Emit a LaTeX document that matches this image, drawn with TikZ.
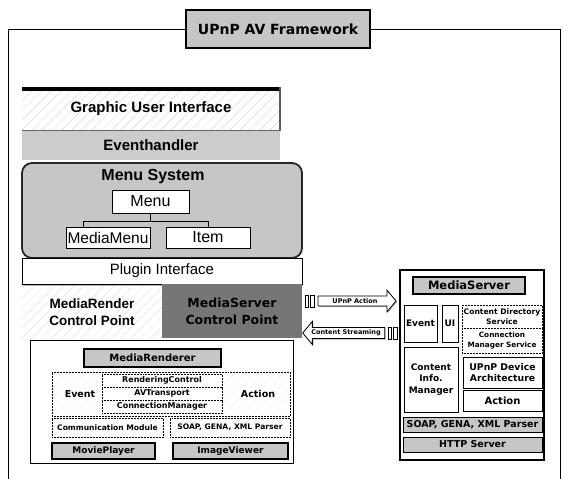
\documentclass[tikz,border=0pt]{standalone}
\usepackage{fontspec}
\setmainfont{Liberation Sans}
\newfontfamily\vfont{DejaVu Sans}
\usetikzlibrary{positioning,shapes.arrows,shadows,patterns.meta}
\newcommand{\fsz}[2]{\fontsize{#1}{#2}\selectfont}
\definecolor{darkbg}{RGB}{118,118,118}
\tikzset{
	blk/.style={draw=black, line width=0.8pt, inner sep=0pt, align=center},
	graybar/.style={blk, fill=gray!45, line width=1.1pt, drop shadow={shadow xshift=1.2pt, shadow yshift=-1.2pt, fill=black!70}},
	whitebox/.style={blk, fill=white},
	thinbox/.style={blk, fill=white, line width=0.5pt},
	dotbox/.style={draw=black, densely dotted, line width=0.5pt, fill=white, inner sep=0pt, align=center},
	hatch/.style={preaction={fill=white}, pattern={Lines[angle=45,distance=7pt,line width=0.3pt]}, pattern color=gray!40},
	conn/.style={draw=black, line width=1pt},
	flow/.style={single arrow, draw=black, fill=white, line width=0.8pt, single arrow head extend=6pt, single arrow tip angle=100, inner sep=2pt, font=\vfont\bfseries\fsz{6.5}{7}, drop shadow={shadow xshift=1pt, shadow yshift=-1pt, fill=black!60}},
	tailbar/.style={draw=black, line width=0.6pt, fill=white, minimum width=3.5pt, minimum height=12pt, inner sep=0pt},
}
\begin{document}
\begin{tikzpicture}[x=1pt,y=-1pt]
		\useasboundingbox (0,0) rectangle (566,479);
		%title and outer frame
		\node[graybar, line width=1.3pt, minimum width=184pt, minimum height=38pt, font=\vfont\bfseries\fsz{14}{16}] (title) at (278,29) {UPnP AV Framework};
		\coordinate (fbl) at (8,479);
		\coordinate (fbr) at (560,479);
		\draw[line width=0.8pt] (fbl) |- (title.west);
		\draw[line width=0.8pt] (title.east) -| (fbr);
		%user interface stack
		\node[blk, hatch, draw=none, minimum width=258pt, minimum height=43pt, font=\bfseries\fsz{15}{17}] (gui) at (151,109) {Graphic User Interface};
		\draw[line width=3.5pt] ([yshift=-1.5pt]gui.north west) -- ([yshift=-1.5pt]gui.north east);
		\draw[line width=2pt, black!65] (gui.north east) -- (gui.south east);
		\node[blk, draw=none, fill=gray!40, minimum width=258pt, minimum height=29pt, font=\bfseries\fsz{15}{17}] (evh) at (151,145.5) {Eventhandler};
		\draw[line width=1pt, black!60] (evh.north west) -- (evh.north east);
		%menu system
		\node[draw=black!85, line width=1.8pt, fill=gray!45, rounded corners=10pt, minimum width=280pt, minimum height=95pt] (menusys) at (162,210.5) {};
		\node[font=\bfseries\fsz{16}{18}, below=4pt of menusys.north, xshift=-9pt] (menulbl) {Menu System};
		\node[whitebox, minimum width=77pt, minimum height=23pt, font=\fsz{16}{18}] (menu) at (150.5,201.5) {Menu};
		\node[whitebox, minimum width=84pt, minimum height=21pt, font=\fsz{15.5}{18}] (mediamenu) at (108,237.5) {MediaMenu};
		\node[whitebox, minimum width=84pt, minimum height=21pt, font=\fsz{16}{18}] (item) at (208,237.5) {Item};
		\coordinate (mmtop) at ([xshift=-25pt]mediamenu.north);
		\draw[conn] (menu.south) -- ++(0,8) -| (mmtop);
		\draw[conn] (menu.south) -- ++(0,8) -| (item.north);
		\node[whitebox, line width=1pt, minimum width=280pt, minimum height=26pt, font=\fsz{15}{17}, drop shadow={shadow xshift=1pt, shadow yshift=-1.5pt, fill=black!60}] (plugin) at (162,271) {Plugin Interface};
		%control points
		\node[hatch, pattern color=gray!30, minimum width=140pt, minimum height=52pt, align=center, inner sep=0pt, font=\bfseries\fsz{13.5}{17}] (mrcp) at (92,312) {MediaRender\\Control Point};
		\fill[darkbg] (162,284) rectangle (302,338);
		\node[align=center, text=black, text opacity=1, font=\vfont\bfseries\fsz{12.5}{17}] (mscp) at (232,311) {MediaServer\\Control Point};
		%media renderer
		\node[blk, fill=white, minimum width=263pt, minimum height=123pt] (rbox) at (161.5,401.5) {};
		\node[graybar, minimum width=137pt, minimum height=18pt, font=\vfont\bfseries\fsz{10}{12}] (rtitle) at (152.5,358) {MediaRenderer};
		\node[dotbox, hatch, minimum width=238pt, minimum height=44pt] (evact) at (171,394) {};
		\node[font=\vfont\bfseries\fsz{9.5}{12}] (revent) at (80,394) {Event};
		\node[font=\vfont\bfseries\fsz{9.5}{12}] (raction) at (258,394) {Action};
		\node[dotbox, minimum width=120pt, minimum height=13pt, font=\vfont\bfseries\fsz{8}{9}] (rc) at (162,380.5) {RenderingControl};
		\node[dotbox, minimum width=120pt, minimum height=13pt, font=\vfont\bfseries\fsz{8}{9}] (avt) at (162,393.5) {AVTransport};
		\node[dotbox, minimum width=120pt, minimum height=13pt, font=\vfont\bfseries\fsz{8}{9}] (cm) at (162,406.5) {ConnectionManager};
		\node[dotbox, hatch, minimum width=111pt, minimum height=19pt, font=\vfont\bfseries\fsz{7.6}{8}] (comm) at (107.5,427.5) {Communication Module};
		\node[dotbox, hatch, minimum width=120pt, minimum height=19pt, font=\vfont\bfseries\fsz{7.6}{8}] (rsoap) at (230,427.5) {SOAP, GENA, XML Parser};
		\node[graybar, minimum width=103pt, minimum height=16pt, font=\vfont\bfseries\fsz{9}{10}] (movie) at (103.5,451) {MoviePlayer};
		\node[graybar, minimum width=115pt, minimum height=16pt, font=\vfont\bfseries\fsz{9}{10}] (image) at (230.5,451) {ImageViewer};
		%action and streaming arrows
		\node[flow, minimum height=78pt] (upnpact) at (355,301) {UPnP Action};
		\node[tailbar] (actbara) at (307,301) {};
		\node[tailbar] (actbarb) at (312.5,301) {};
		\node[flow, shape border rotate=180, minimum height=82pt] (stream) at (346,333) {Content Streaming};
		\node[tailbar] (strbara) at (390,333) {};
		\node[tailbar] (strbarb) at (395.5,333) {};
		%media server
		\node[blk, line width=1.3pt, fill=white, minimum width=144pt, minimum height=190pt] (msbox) at (472,365) {};
		\node[graybar, minimum width=112pt, minimum height=17pt, font=\vfont\bfseries\fsz{11.5}{12}] (mstitle) at (469,285.5) {MediaServer};
		\node[thinbox, minimum width=33pt, minimum height=37pt, font=\vfont\bfseries\fsz{9}{10}] (msevent) at (420.5,323.5) {Event};
		\node[thinbox, minimum width=16pt, minimum height=37pt, font=\vfont\bfseries\fsz{9}{10}] (msui) at (450,323.5) {UI};
		\node[dotbox, minimum width=80pt, minimum height=23pt, font=\vfont\bfseries\fsz{7.6}{9.5}] (cds) at (502,316.5) {Content Directory\\Service};
		\node[dotbox, minimum width=80pt, minimum height=25pt, font=\vfont\bfseries\fsz{7.3}{10.5}] (cms) at (502,340.5) {Connection\\Manager Service};
		\node[thinbox, minimum width=54pt, minimum height=65pt, font=\vfont\bfseries\fsz{9}{11.5}] (cim) at (431,379.5) {Content\\Info.\\Manager};
		\node[thinbox, minimum width=79pt, minimum height=31pt, font=\vfont\bfseries\fsz{9.3}{11.5}] (upda) at (502.5,372.5) {UPnP Device\\Architecture};
		\node[thinbox, minimum width=79pt, minimum height=21pt, font=\vfont\bfseries\fsz{10}{11}] (msaction) at (502.5,400.5) {Action};
		\node[graybar, line width=0.6pt, minimum width=139pt, minimum height=15pt, font=\vfont\bfseries\fsz{9.5}{10}] (mssoap) at (472.5,424.5) {SOAP, GENA, XML Parser};
		\node[graybar, line width=0.6pt, minimum width=139pt, minimum height=15pt, font=\vfont\bfseries\fsz{9.5}{10}] (http) at (472.5,444.5) {HTTP Server};
\end{tikzpicture}
\end{document}
